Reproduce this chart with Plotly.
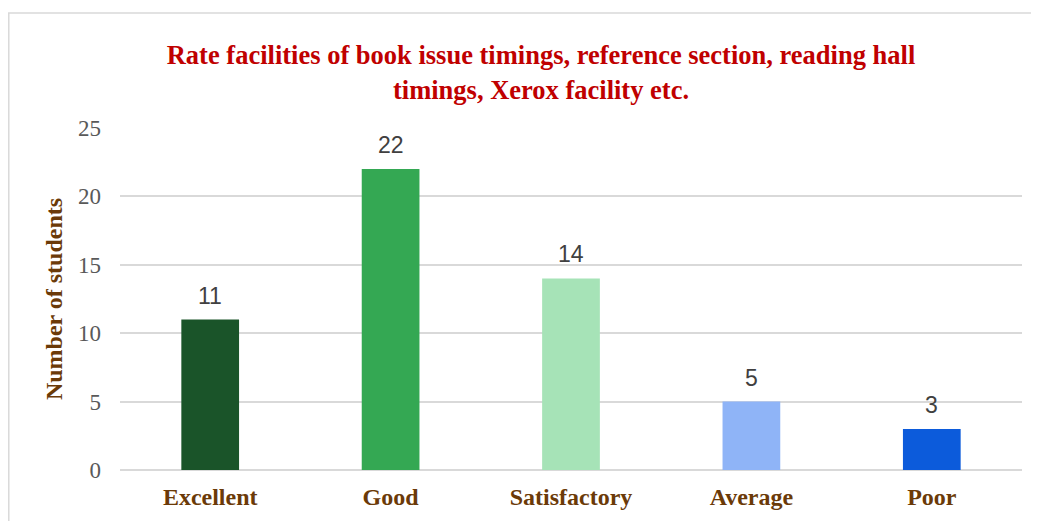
import plotly.graph_objects as go

categories = ["Excellent", "Good", "Satisfactory", "Average", "Poor"]
students = [11, 22, 14, 5, 3]
bar_colors = ["#1a5429", "#34a853", "#a6e3b7", "#8fb4f7", "#0c5bdb"]

SERIF = "Liberation Serif, Times New Roman, serif"
SANS = "Liberation Sans, Arial, sans-serif"
BROWN = "#6b3a08"

fig = go.Figure()
fig.add_trace(
    go.Bar(
        x=categories,
        y=students,
        marker={"color": bar_colors, "line": {"width": 0}},
        width=0.32,
        hoverinfo="x+y",
    )
)

# value labels above each bar
for cat, val in zip(categories, students):
    fig.add_annotation(
        x=cat,
        y=val,
        text=str(val),
        showarrow=False,
        yanchor="middle",
        yshift=24,
        font={"family": SANS, "size": 23, "color": "#404040"},
    )

fig.update_layout(
    width=1039,
    height=521,
    paper_bgcolor="white",
    plot_bgcolor="white",
    showlegend=False,
    margin={"l": 112, "r": 25, "t": 120, "b": 59},
    title={
        "text": "Rate facilities of book issue timings, reference section, reading hall<br>timings, Xerox facility etc.",
        "font": {"family": SERIF, "size": 26.5, "color": "#c00000", "weight": "bold"},
        "x": 0.513,
        "xref": "container",
        "xanchor": "center",
        "y": 0.892,
        "yref": "container",
        "yanchor": "middle",
    },
    xaxis={
        "showgrid": False,
        "showline": False,
        "ticks": "",
        "ticklabelstandoff": 10,
        "tickfont": {"family": SERIF, "size": 24, "color": BROWN, "weight": "bold"},
    },
    yaxis={
        "range": [0, 25],
        "dtick": 5,
        "showgrid": True,
        "gridcolor": "#d9d9d9",
        "gridwidth": 1.5,
        "zeroline": True,
        "zerolinecolor": "#d9d9d9",
        "zerolinewidth": 1.5,
        "ticks": "",
        "ticklabelstandoff": 18,
        "tickfont": {"family": SERIF, "size": 23, "color": "#595959"},
        "title": {
            "text": "Number of students",
            "font": {"family": SERIF, "size": 24, "color": BROWN, "weight": "bold"},
            "standoff": 8,
        },
    },
    shapes=[
        {
            "type": "rect",
            "xref": "paper",
            "yref": "paper",
            "x0": -0.1233,
            "x1": 1.2,
            "y0": -0.5,
            "y1": 1.336,
            "line": {"color": "#d9d9d9", "width": 1.5},
            "fillcolor": "rgba(0,0,0,0)",
            "layer": "below",
        }
    ],
)

fig.write_html("out.html")
